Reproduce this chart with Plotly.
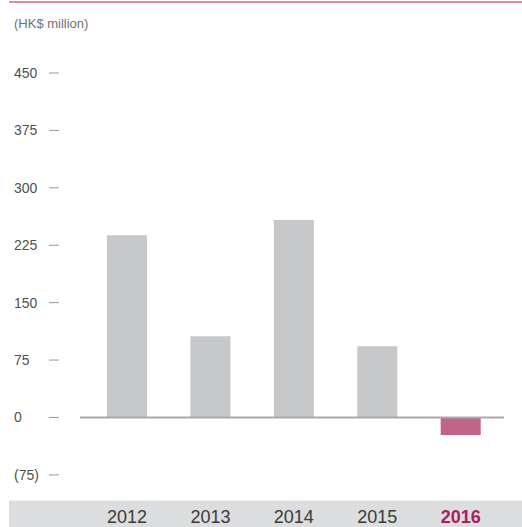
import plotly.graph_objects as go

years = ["2012", "2013", "2014", "2015", "2016"]
values = [238, 106, 258, 93, -23]
bar_colors = ["#c6c7c9", "#c6c7c9", "#c6c7c9", "#c6c7c9", "#bf6589"]
tick_vals = [450, 375, 300, 225, 150, 75, 0, -75]
tick_text = ["450", "375", "300", "225", "150", "75", "0", "(75)"]
year_labels = ["2012", "2013", "2014", "2015",
               "<b><span style='color:#a8215f'>2016</span></b>"]

W, H = 522, 527
def px(x):
    return x / W
def py(y):
    return 1 - y / H

fig = go.Figure()
fig.add_trace(go.Bar(x=years, y=values, marker=dict(color=bar_colors, line=dict(width=0)),
                     width=0.48, hoverinfo="x+y"))

shapes = []
# bottom band
shapes.append(dict(type="rect", xref="paper", yref="paper", x0=px(9), x1=1, y0=0, y1=py(500.5),
                   fillcolor="#dcdddf", line=dict(width=0), layer="below"))
# top line
shapes.append(dict(type="line", xref="paper", yref="paper", x0=px(9), x1=1, y0=py(2), y1=py(2),
                   line=dict(color="#d4909f", width=2)))
# zero line
shapes.append(dict(type="line", xref="paper", yref="y", x0=px(80), x1=px(504), y0=0, y1=0,
                   line=dict(color="#a9a9ab", width=2), layer="above"))
annotations = []
for v, t in zip(tick_vals, tick_text):
    shapes.append(dict(type="line", xref="paper", yref="y", x0=px(49), x1=px(59), y0=v, y1=v,
                       line=dict(color="#9a9a9a", width=1)))
    annotations.append(dict(xref="paper", yref="y", x=px(12), y=v, text=t, showarrow=False,
                            xanchor="left", yanchor="middle",
                            font=dict(size=14, color="#505050")))
annotations.append(dict(xref="paper", yref="paper", x=px(12), y=py(23), text="(HK$ million)",
                        showarrow=False, xanchor="left", yanchor="middle",
                        font=dict(size=13, color="#707070")))

fig.update_layout(
    width=W, height=H, autosize=False,
    margin=dict(l=0, r=0, t=0, b=0),
    paper_bgcolor="white", plot_bgcolor="white",
    showlegend=False,
    font=dict(family="Liberation Sans, Arial, Helvetica, sans-serif"),
    shapes=shapes, annotations=annotations,
    xaxis=dict(domain=[px(85.3), px(502.4)], range=[-0.5, 4.5], showgrid=False, zeroline=False,
               showline=False, ticks="", tickmode="array", tickvals=years, ticktext=year_labels,
               tickfont=dict(size=18, color="#3a3a3a"), ticklabelstandoff=4, fixedrange=True),
    yaxis=dict(domain=[py(500), py(40)], range=[-107.8, 493.1], showgrid=False, zeroline=False,
               showline=False, showticklabels=False, ticks="", fixedrange=True),
)

fig.write_html("out.html", config={"displayModeBar": False},
               post_script="document.body.style.margin='0';document.body.style.overflow='hidden';")
